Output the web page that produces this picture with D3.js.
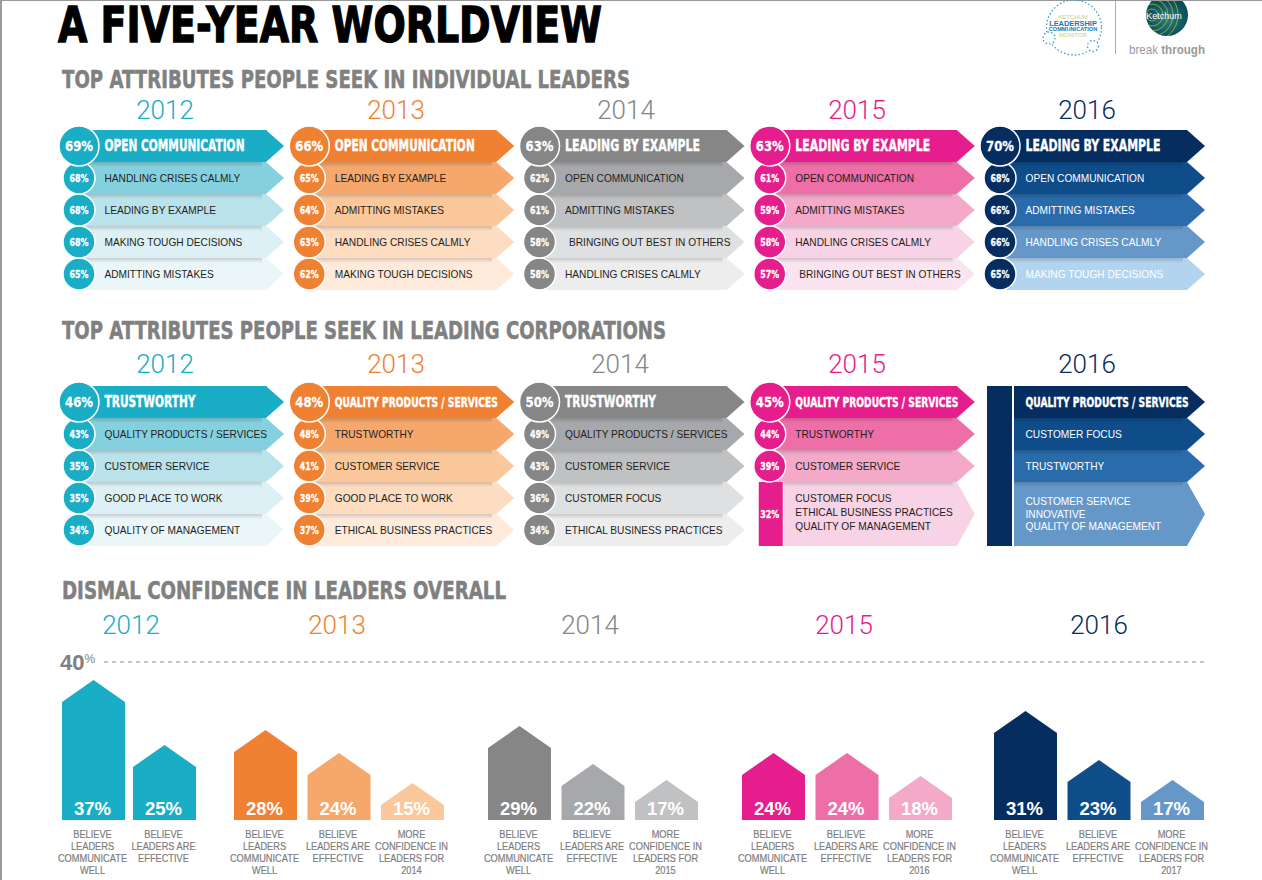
<!DOCTYPE html>
<html lang="en">

<head>
    <meta charset="UTF-8">
    <title>A Five-Year Worldview</title>
    <script src="https://d3js.org/d3.v7.min.js"></script>
    <style>
        body {
            margin: 0;
            background: #fff;
        }

        svg {
            display: block;
        }

        text {
            font-family: "Liberation Sans", sans-serif;
        }

        .heavy {
            font-family: "DejaVu Sans", sans-serif;
            font-weight: 700;
        }

        .year {
            font-family: Roboto, "Liberation Sans", sans-serif;
            font-weight: 300;
        }
    </style>
</head>

<body>
    <svg width="1262" height="880"></svg>
    <script>
        const years = ["2012", "2013", "2014", "2015", "2016"];

        const individualLabels = [
            ["OPEN COMMUNICATION", "HANDLING CRISES CALMLY", "LEADING BY EXAMPLE", "MAKING TOUGH DECISIONS", "ADMITTING MISTAKES"],
            ["OPEN COMMUNICATION", "LEADING BY EXAMPLE", "ADMITTING MISTAKES", "HANDLING CRISES CALMLY", "MAKING TOUGH DECISIONS"],
            ["LEADING BY EXAMPLE", "OPEN COMMUNICATION", "ADMITTING MISTAKES", "BRINGING OUT BEST IN OTHERS", "HANDLING CRISES CALMLY"],
            ["LEADING BY EXAMPLE", "OPEN COMMUNICATION", "ADMITTING MISTAKES", "HANDLING CRISES CALMLY", "BRINGING OUT BEST IN OTHERS"],
            ["LEADING BY EXAMPLE", "OPEN COMMUNICATION", "ADMITTING MISTAKES", "HANDLING CRISES CALMLY", "MAKING TOUGH DECISIONS"]
        ];
        const individualValues = [
            [69, 68, 68, 68, 65],
            [66, 65, 64, 63, 62],
            [63, 62, 61, 58, 58],
            [63, 61, 59, 58, 57],
            [70, 68, 66, 66, 65]
        ];

        // a row with several lines shares one value and takes two row heights
        const corporateLabels = [
            ["TRUSTWORTHY", "QUALITY PRODUCTS / SERVICES", "CUSTOMER SERVICE", "GOOD PLACE TO WORK", "QUALITY OF MANAGEMENT"],
            ["QUALITY PRODUCTS / SERVICES", "TRUSTWORTHY", "CUSTOMER SERVICE", "GOOD PLACE TO WORK", "ETHICAL BUSINESS PRACTICES"],
            ["TRUSTWORTHY", "QUALITY PRODUCTS / SERVICES", "CUSTOMER SERVICE", "CUSTOMER FOCUS", "ETHICAL BUSINESS PRACTICES"],
            ["QUALITY PRODUCTS / SERVICES", "TRUSTWORTHY", "CUSTOMER SERVICE", "CUSTOMER FOCUS|ETHICAL BUSINESS PRACTICES|QUALITY OF MANAGEMENT"],
            ["QUALITY PRODUCTS / SERVICES", "CUSTOMER FOCUS", "TRUSTWORTHY", "CUSTOMER SERVICE|INNOVATIVE|QUALITY OF MANAGEMENT"]
        ];
        const corporateValues = [
            [46, 43, 35, 35, 34],
            [48, 48, 41, 39, 37],
            [50, 49, 43, 36, 34],
            [45, 44, 39, 32],
            [null, null, null, null]
        ];

        const confidenceValues = [
            [37, 25],
            [28, 24, 15],
            [29, 22, 17],
            [24, 24, 18],
            [31, 23, 17]
        ];
        const confidenceLabels = [
            ["BELIEVE|LEADERS|COMMUNICATE|WELL", "BELIEVE|LEADERS ARE|EFFECTIVE"],
            ["BELIEVE|LEADERS|COMMUNICATE|WELL", "BELIEVE|LEADERS ARE|EFFECTIVE", "MORE|CONFIDENCE IN|LEADERS FOR|2014"],
            ["BELIEVE|LEADERS|COMMUNICATE|WELL", "BELIEVE|LEADERS ARE|EFFECTIVE", "MORE|CONFIDENCE IN|LEADERS FOR|2015"],
            ["BELIEVE|LEADERS|COMMUNICATE|WELL", "BELIEVE|LEADERS ARE|EFFECTIVE", "MORE|CONFIDENCE IN|LEADERS FOR|2016"],
            ["BELIEVE|LEADERS|COMMUNICATE|WELL", "BELIEVE|LEADERS ARE|EFFECTIVE", "MORE|CONFIDENCE IN|LEADERS FOR|2017"]
        ];

        const shades = [
            ["#1aadc6", "#85d0de", "#b9e2eb", "#dcf0f5", "#ebf6f9"],
            ["#f08132", "#f5a76c", "#fbc89c", "#fddcc0", "#feeadb"],
            ["#868686", "#a7a8ab", "#c0c1c3", "#dfe0e2", "#ededee"],
            ["#e61d8c", "#ee6ea8", "#f4a9c9", "#f8d3e5", "#fae4ef"],
            ["#052d5f", "#0f4c8a", "#2a6cab", "#6598c9", "#b3d4ef"]
        ];

        const leadWidths = new Map([
            ["OPEN COMMUNICATION", 140],
            ["LEADING BY EXAMPLE", 135],
            ["TRUSTWORTHY", 91],
            ["QUALITY PRODUCTS / SERVICES", 163]
        ]);

        const svg = d3.select("svg");
        const defs = svg.append("defs");
        const shadow = defs.append("linearGradient").attr("id", "rowShadow")
            .attr("x1", 0).attr("x2", 0).attr("y1", 0).attr("y2", 1);
        shadow.append("stop").attr("offset", 0).attr("stop-color", "#000").attr("stop-opacity", 0.16);
        shadow.append("stop").attr("offset", 1).attr("stop-color", "#000").attr("stop-opacity", 0);

        // page frame
        svg.append("rect").attr("width", 2).attr("height", 880).attr("fill", "#9a9a9a");
        svg.append("rect").attr("width", 1262).attr("height", 1).attr("fill", "#9a9a9a");

        const column = d3.scaleBand().domain(years).range([60, 1211.25]);
        const arrowWidth = 224, tipLength = 18;

        // squeeze a text to a width, there is no condensed grotesque on the machine
        function fitWidth(sel, width) {
            sel.attr("textLength", width).attr("lengthAdjust", "spacingAndGlyphs");
        }
        function squeeze(sel, factor) {
            const natural = sel.node().getComputedTextLength();
            fitWidth(sel, natural * factor);
        }

        function heading(text, width, y) {
            svg.append("text").attr("class", "heavy")
                .attr("x", 62).attr("y", y)
                .attr("font-size", 25).attr("fill", "#808080")
                .attr("stroke", "#808080").attr("stroke-width", 0.6)
                .text(text)
                .call(fitWidth, width);
        }

        function yearLabels(centers, y) {
            svg.append("g").selectAll("text").data(years).join("text")
                .attr("class", "year")
                .attr("x", (d, i) => centers[i])
                .attr("y", y)
                .attr("text-anchor", "middle")
                .attr("font-size", 26)
                .attr("fill", (d, i) => shades[i][0])
                .text(d => d);
        }

        function arrowPath(x0, x1, y0, y1) {
            const p = d3.path();
            p.moveTo(x0, y0);
            p.lineTo(x1 - tipLength, y0);
            p.lineTo(x1, (y0 + y1) / 2);
            p.lineTo(x1 - tipLength, y1);
            p.lineTo(x0, y1);
            p.closePath();
            return p.toString();
        }

        function drawPanel(labels, values, top) {
            const row = d3.scaleBand().domain(d3.range(5)).range([top, top + 160]);

            years.forEach((year, c) => {
                const x0 = column(year);
                const g = svg.append("g");
                const noCircles = values[c][0] === null;
                const arrowStart = noCircles ? x0 + 33 : x0 + 20;
                const arrowEnd = x0 + arrowWidth;

                const rows = labels[c].map((label, i) => ({
                    lines: label.split("|"),
                    value: values[c][i],
                    i,
                    y0: row(i),
                    y1: row(i) + row.step() * (label.includes("|") ? 2 : 1)
                }));

                g.selectAll("path.arrow").data(rows).join("path")
                    .attr("class", "arrow")
                    .attr("d", d => arrowPath(d.lines.length > 1 && !noCircles ? x0 + 33 : arrowStart, arrowEnd, d.y0, d.y1))
                    .attr("fill", d => shades[c][d.i]);

                g.selectAll("rect.shade").data(rows.filter(d => d.i > 0)).join("rect")
                    .attr("class", "shade")
                    .attr("x", d => d.lines.length > 1 ? x0 + 33 : arrowStart).attr("y", d => d.y0)
                    .attr("width", d => arrowWidth - tipLength - ((d.lines.length > 1 ? x0 + 33 : arrowStart) - x0) - 4).attr("height", 5)
                    .attr("fill", "url(#rowShadow)");

                // tall blocks stand in for the circles where no single value exists
                if (noCircles) {
                    g.append("rect").attr("x", x0 + 6).attr("y", top)
                        .attr("width", 25).attr("height", 160).attr("fill", shades[c][0]);
                }
                rows.filter(d => d.lines.length > 1 && d.value !== null).forEach(d => {
                    g.append("rect").attr("x", x0 + 8).attr("y", d.y0)
                        .attr("width", 24).attr("height", d.y1 - d.y0).attr("fill", shades[c][0]);
                });

                const circles = rows.filter(d => d.value !== null && d.lines.length === 1);
                g.selectAll("circle").data(circles.slice().reverse()).join("circle")
                    .attr("cx", x0 + 19)
                    .attr("cy", d => (d.y0 + d.y1) / 2)
                    .attr("r", d => d.i === 0 ? 20 : 16)
                    .attr("fill", shades[c][0])
                    .attr("stroke", "#fff").attr("stroke-width", 1.5);

                g.selectAll("text.value").data(rows.filter(d => d.value !== null)).join("text")
                    .attr("class", "value heavy")
                    .attr("x", x0 + 19)
                    .attr("y", d => (d.y0 + d.y1) / 2)
                    .attr("dy", "0.36em")
                    .attr("text-anchor", "middle")
                    .attr("font-size", d => d.i === 0 ? 14.5 : 10.5)
                    .attr("fill", "#fff")
                    .attr("stroke", "#fff").attr("stroke-width", 0.3)
                    .text(d => d.value + "%")
                    .each(function (d) { d3.select(this).call(fitWidth, d.i === 0 ? 28 : 19); });

                const textX = x0 + 44.5;
                rows.forEach(d => {
                    const gap = c === 4 ? 12.5 : 14;
                    const mid = (d.y0 + d.y1) / 2 - (c === 3 && d.lines.length > 1 ? 2 : 0);
                    d.lines.forEach((line, k) => {
                        const t = g.append("text")
                            .attr("x", textX + (line.startsWith("BRINGING") ? 4 : 0))
                            .attr("y", mid + (k - (d.lines.length - 1) / 2) * gap)
                            .attr("dy", "0.36em")
                            .text(line);
                        if (d.i === 0) {
                            t.attr("class", "heavy")
                                .attr("font-size", line.length > 20 ? 13.5 : 15)
                                .attr("fill", "#fff")
                                .attr("stroke", "#fff").attr("stroke-width", 0.4)
                                .call(fitWidth, leadWidths.get(line));
                        } else {
                            t.attr("font-size", 10.6)
                                .attr("fill", c === 4 ? "#fff" : "#231f20")
                                .call(squeeze, 0.958);
                        }
                    });
                });
            });
        }

        // title and logos
        svg.append("text").attr("class", "heavy")
            .attr("x", 58).attr("y", 42)
            .attr("font-size", 50).attr("fill", "#000")
            .attr("stroke", "#000").attr("stroke-width", 1.4)
            .text("A FIVE-YEAR WORLDVIEW")
            .call(fitWidth, 544);

        const logo = svg.append("g");
        [[1074, 27.5, 27.5], [1049, 38, 6], [1093, 46, 5.5]].forEach(([cx, cy, r]) => {
            logo.append("circle").attr("cx", cx).attr("cy", cy).attr("r", r)
                .attr("fill", r > 10 ? "none" : "#fff").attr("stroke", "#2f9fd8")
                .attr("stroke-width", 1.3).attr("stroke-dasharray", "1.5 2.2");
        });
        [["KETCHUM", 19, 6, "#c3d17a", 400], ["LEADERSHIP", 26, 7.4, "#1b75bb", 700], ["COMMUNICATION", 31, 5.6, "#1b75bb", 700], ["MONITOR", 36.5, 6, "#c3d17a", 400]]
            .forEach(([t, y, size, color, weight]) => {
                logo.append("text").attr("x", 1073).attr("y", y).attr("text-anchor", "middle")
                    .attr("font-size", size).attr("font-weight", weight).attr("fill", color).text(t);
            });
        logo.append("line").attr("x1", 1115.5).attr("x2", 1115.5).attr("y1", 1).attr("y2", 54)
            .attr("stroke", "#aaa");

        const ball = defs.append("radialGradient").attr("id", "ball");
        ball.append("stop").attr("offset", 0).attr("stop-color", "#2f7f78");
        ball.append("stop").attr("offset", 1).attr("stop-color", "#0b4f5c");
        defs.append("clipPath").attr("id", "ballClip").append("circle")
            .attr("cx", 1167).attr("cy", 15).attr("r", 21);
        const ballGroup = logo.append("g").attr("clip-path", "url(#ballClip)");
        ballGroup.append("rect").attr("x", 1146).attr("y", 1).attr("width", 42).attr("height", 36)
            .attr("fill", "url(#ball)");
        [6, 11, 16, 21, 26].forEach(r => {
            ballGroup.append("circle").attr("cx", 1152).attr("cy", 15).attr("r", r)
                .attr("fill", "none").attr("stroke", "#b7c84a").attr("stroke-width", 0.7);
        });
        logo.append("text").attr("x", 1164).attr("y", 19).attr("text-anchor", "middle")
            .attr("font-size", 9).attr("fill", "#fff").text("Ketchum");
        const brand = logo.append("text").attr("x", 1129).attr("y", 54)
            .attr("font-size", 12).attr("fill", "#9a9a9a");
        brand.append("tspan").text("break ");
        brand.append("tspan").attr("font-weight", 700).text("through");
        brand.call(fitWidth, 76);

        // attribute panels
        heading("TOP ATTRIBUTES PEOPLE SEEK IN INDIVIDUAL LEADERS", 568, 88);
        yearLabels([165, 396, 626, 857, 1087], 119);
        drawPanel(individualLabels, individualValues, 130);

        heading("TOP ATTRIBUTES PEOPLE SEEK IN LEADING CORPORATIONS", 604, 339);
        yearLabels([165, 396, 620, 857, 1087], 373);
        drawPanel(corporateLabels, corporateValues, 386);

        // confidence bars
        heading("DISMAL CONFIDENCE IN LEADERS OVERALL", 444, 599);
        yearLabels([131, 337, 590, 844, 1099], 634);

        // the bars in the source are not drawn to one linear ratio, so the scale follows them
        const barY = d3.scaleLinear()
            .domain([0, 15, 17, 18, 22, 23, 24, 25, 28, 29, 31, 37, 40])
            .range([820, 783, 780, 776, 764, 760, 753, 745, 730, 726, 711, 680, 662]);
        const groupX = d3.scaleOrdinal(years, [62, 234, 488, 742, 994]);
        const barWidth = 63, shoulder = 22;
        const barColor = (c, i) => {
            if (c === 0) return shades[0][0];
            if (c === 4 && i === 2) return shades[4][3];
            return shades[c][i];
        };

        svg.append("line")
            .attr("x1", 104).attr("x2", 1205)
            .attr("y1", barY(40)).attr("y2", barY(40))
            .attr("stroke", "#888").attr("stroke-width", 1.2).attr("stroke-dasharray", "4 4");
        const topTick = svg.append("text").attr("x", 60).attr("y", 670).attr("fill", "#808080");
        topTick.append("tspan").attr("font-size", 22).attr("font-weight", 700).text("40");
        topTick.append("tspan").attr("font-size", 12).attr("dy", -7).text("%");

        years.forEach((year, c) => {
            const barStep = c === 0 ? 71 : 73.5;
            const bars = confidenceValues[c].map((value, i) => ({
                value, i, x: groupX(year) + i * barStep, lines: confidenceLabels[c][i].split("|")
            }));
            const g = svg.append("g");

            g.selectAll("path").data(bars).join("path")
                .attr("d", d => {
                    const p = d3.path();
                    p.moveTo(d.x, barY(0));
                    p.lineTo(d.x, barY(d.value) + shoulder);
                    p.lineTo(d.x + barWidth / 2, barY(d.value));
                    p.lineTo(d.x + barWidth, barY(d.value) + shoulder);
                    p.lineTo(d.x + barWidth, barY(0));
                    p.closePath();
                    return p.toString();
                })
                .attr("fill", d => barColor(c, d.i));

            g.selectAll("text.pct").data(bars).join("text")
                .attr("class", "pct")
                .attr("x", d => d.x + barWidth / 2 - 1)
                .attr("y", 815)
                .attr("text-anchor", "middle")
                .attr("font-size", 18.5).attr("font-weight", 700)
                .attr("fill", "#fff")
                .text(d => d.value + "%");

            bars.forEach(d => {
                d.lines.forEach((line, k) => {
                    g.append("text")
                        .attr("x", d.x + barWidth / 2 - 1)
                        .attr("y", 838 + k * 12)
                        .attr("text-anchor", "middle")
                        .attr("font-size", 11)
                        .attr("fill", "#7d7d7d")
                        .attr("stroke", "#7d7d7d").attr("stroke-width", 0.2)
                        .text(line)
                        .call(squeeze, 0.84);
                });
            });
        });
    </script>
</body>

</html>
